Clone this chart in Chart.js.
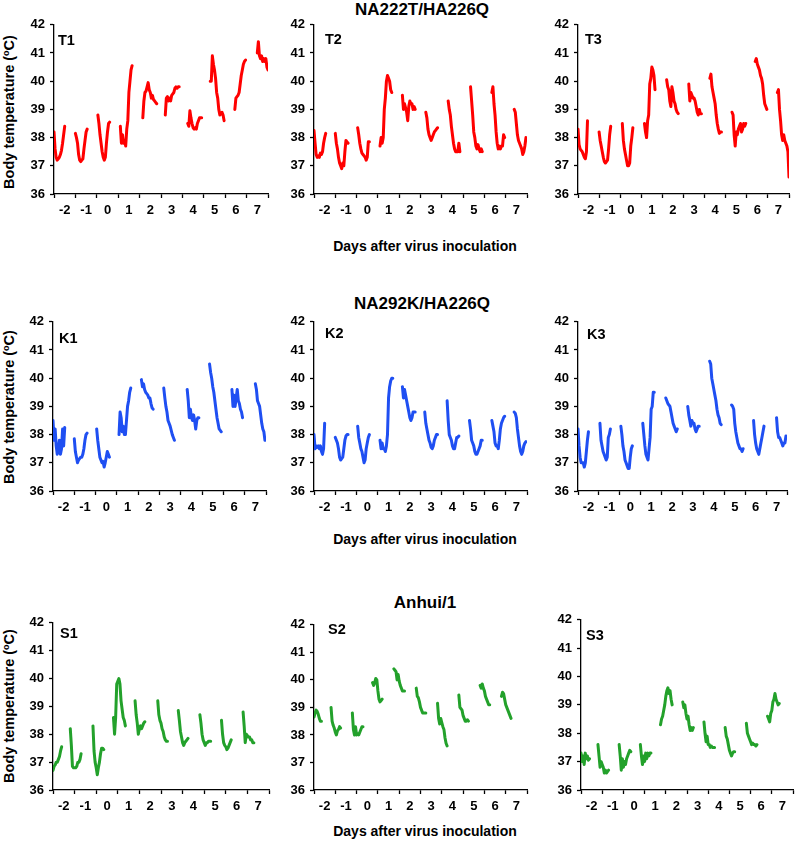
<!DOCTYPE html>
<html>
<head>
<meta charset="utf-8">
<script src="https://cdn.jsdelivr.net/npm/chart.js@4.4.1/dist/chart.umd.min.js"></script>
<style>
body{margin:0;background:#fff;width:795px;height:849px;position:relative;overflow:hidden;font-family:"Liberation Sans",Arial,sans-serif;}
canvas{position:absolute;}
.txt{position:absolute;font-weight:bold;color:#000;white-space:nowrap;transform:translate(-50%,-50%);}
.ytitle{transform:translate(-50%,-50%) rotate(-90deg);font-size:14.5px;}
.ytitle sup{font-size:9px;}
.grp{font-size:17px;}
.xt{font-size:14px;}
</style>
</head>
<body>
<div class="txt grp" style="left:422px;top:10px">NA222T/HA226Q</div>
<div class="txt grp" style="left:422px;top:304px">NA292K/HA226Q</div>
<div class="txt grp" style="left:425px;top:603px">Anhui/1</div>
<div class="txt xt" style="left:425px;top:246px">Days after virus inoculation</div>
<div class="txt xt" style="left:425px;top:539px">Days after virus inoculation</div>
<div class="txt xt" style="left:425px;top:831px">Days after virus inoculation</div>
<div class="txt ytitle" style="left:9px;top:112px">Body temperature (<sup>o</sup>C)</div>
<div class="txt ytitle" style="left:9px;top:407px">Body temperature (<sup>o</sup>C)</div>
<div class="txt ytitle" style="left:9px;top:706px">Body temperature (<sup>o</sup>C)</div>
<script>
// x axis: one label per day, tick marks between days
const dayLabels = [-2, -1, 0, 1, 2, 3, 4, 5, 6, 7];
const tempTicks = [36, 37, 38, 39, 40, 41, 42];
// readings every 0.05 day; each entry = [first reading day, readings]
const stepDays = 0.05;

const T1 = [
  [-2.5, [38.2,37.6,37.3,37.2,37.25,37.3,37.4,37.55,37.8,38.1,38.4]],
  [-1.5, [38.15,38.0,37.8,37.4,37.2,37.15,37.2,37.25,37.6,37.9,38.2,38.3]],
  [-0.45, [38.8,38.5,38.1,37.8,37.5,37.3,37.2,37.3,37.8,38.2,38.5,38.55]],
  [0.6, [38.4,37.8,38.1,37.8,37.9,37.7,38.3,38.6,39.6,40.0,40.4,40.55]],
  [1.65, [38.7,39.3,39.6,39.65,39.8,39.95,39.7,39.6,39.4,39.5,39.35,39.3,39.25,39.2]],
  [2.7, [38.8,39.4,39.45,39.3,39.4,39.3,39.5,39.55,39.6,39.75,39.8,39.75,39.8,39.8]],
  [3.75, [38.5,38.4,38.95,38.7,38.5,38.35,38.3,38.35,38.3,38.5,38.6,38.7,38.7,38.7]],
  [4.8, [40.0,40.0,40.9,40.6,40.4,40.1,39.6,39.4,39.0,38.8,38.85,38.9,38.8,38.6]],
  [5.95, [39.0,39.4,39.45,39.5,39.6,39.9,40.2,40.4,40.6,40.7,40.75]],
  [7.0, [41.0,41.4,40.9,40.8,40.9,40.7,40.8,40.7,40.8,40.5,40.4]]
];
const T2 = [
  [-2.5, [38.25,37.8,37.4,37.3,37.35,37.3,37.45,37.4,37.5,37.8,38.0,38.15]],
  [-1.5, [38.15,37.8,37.6,37.3,37.1,37.0,36.9,37.1,37.0,37.5,37.9,37.85,37.8]],
  [-0.45, [38.35,38.1,37.8,37.6,37.45,37.4,37.35,37.3,37.2,37.3,37.85,37.85]],
  [0.6, [37.7,38.0,37.8,38.0,39.0,39.4,40.0,40.2,40.1,40.0,39.7,39.6]],
  [1.65, [39.5,39.0,39.2,39.05,38.9,38.6,39.1,39.3,39.2,39.2,39.0,39.1,39.0]],
  [2.75, [38.9,38.7,38.3,38.1,38.0,37.9,38.0,38.1,38.2,38.25,38.3,38.35]],
  [3.8, [39.3,39.0,38.8,38.4,38.1,37.8,37.6,37.5,37.5,37.5,37.8,37.5]],
  [4.85, [39.8,39.3,38.8,38.2,38.0,37.7,37.6,37.75,37.6,37.5,37.6,37.5]],
  [5.85, [39.6,39.8,39.2,38.8,38.2,37.8,37.6,37.7,37.6,37.7,37.7,38.1,38.0]],
  [6.9, [39.0,38.9,38.5,38.1,37.9,37.8,37.7,37.6,37.4,37.5,37.7,38.0]]
];
const T3 = [
  [-2.5, [38.3,37.75,37.6,37.55,37.5,37.4,37.3,37.25,37.5,38.6]],
  [-1.5, [38.2,37.9,37.7,37.5,37.3,37.15,37.1,37.15,37.2,37.6,38.1,38.4]],
  [-0.4, [38.5,37.9,37.6,37.4,37.2,37.0,37.0,37.1,37.7,38.0,38.35]],
  [0.65, [38.5,38.2,38.0,38.6,38.8,39.9,40.1,40.5,40.4,40.2,39.7]],
  [1.7, [40.05,39.8,39.7,39.3,39.1,39.8,39.6,39.3,39.2,39.0,38.9,38.85]],
  [2.75, [39.9,39.3,39.6,39.5,39.4,39.4,39.3,39.1,38.9,38.8,39.0,38.85,38.85]],
  [3.75, [40.1,40.25,39.8,39.6,39.4,39.2,38.8,38.5,38.3,38.15,38.2,38.2]],
  [4.8, [38.9,38.8,38.1,37.7,38.2,38.1,38.3,38.4,38.5,38.2,38.3,38.5,38.4,38.5]],
  [5.9, [40.7,40.8,40.6,40.5,40.4,40.2,40.1,39.9,39.5,39.2,39.1,39.0]],
  [6.95, [39.6,39.7,39.0,38.6,38.1,37.9,38.1,37.9,37.8,37.7,37.5,36.6]]
];
const K1 = [
  [-2.5, [38.5,37.8,38.2,37.6,37.3,37.5,37.8,37.3,37.5,38.2,37.6,38.25]],
  [-1.5, [37.85,37.4,37.2,37.0,37.1,37.15,37.2,37.2,37.3,37.5,37.8,38.0,38.05]],
  [-0.45, [38.2,37.8,37.5,37.2,37.1,37.0,37.05,36.85,37.0,37.2,37.4,37.3,37.2]],
  [0.6, [38.0,38.8,38.6,38.1,38.3,38.0,38.0,38.5,39.0,39.2,39.5,39.65]],
  [1.65, [39.95,39.7,39.8,39.6,39.5,39.45,39.4,39.3,39.3,39.1,38.95,38.9]],
  [2.7, [39.65,39.3,39.0,38.8,38.5,38.4,38.3,38.15,38.0,37.9,37.8]],
  [3.8, [39.6,39.2,38.6,38.9,38.6,38.5,38.7,38.5,38.2,38.5,38.6,38.6]],
  [4.85, [40.5,40.2,40.0,39.7,39.5,39.2,38.9,38.6,38.4,38.2,38.15,38.1]],
  [5.9, [39.6,39.0,39.4,39.0,39.3,39.6,39.2,39.1,38.9,38.8,38.6]],
  [7.0, [39.8,39.6,39.2,39.1,39.0,38.7,38.4,38.2,38.1,37.8]]
];
const K2 = [
  [-2.5, [38.0,37.5,37.6,37.55,37.6,37.5,37.6,37.4,37.3,37.5,38.4]],
  [-1.5, [37.9,37.8,37.7,37.5,37.2,37.1,37.15,37.2,37.5,37.8,37.95,38.0,38.0]],
  [-0.45, [38.3,37.9,37.7,37.5,37.4,37.2,37.0,37.1,37.5,37.7,37.9,38.0]],
  [0.6, [37.8,37.5,37.7,37.5,37.5,37.4,37.6,38.0,39.3,39.7,39.9,40.0,40.0]],
  [1.65, [39.7,39.3,39.6,39.4,39.2,39.0,38.8,38.6,38.5,38.6,38.8,38.8,38.8]],
  [2.7, [38.8,38.4,38.2,38.0,37.8,37.7,37.55,37.5,37.6,37.8,37.9,38.0,38.0]],
  [3.75, [39.2,38.5,38.0,37.9,37.8,37.6,37.5,37.5,37.7,37.9,37.9,37.95]],
  [4.8, [38.5,38.2,37.8,37.7,37.6,37.4,37.3,37.3,37.4,37.5,37.6,37.8,37.8]],
  [5.85, [38.5,38.3,38.1,37.7,37.6,37.6,37.5,37.8,38.2,38.4,38.5,38.6,38.65]],
  [6.9, [38.8,38.75,38.6,38.2,37.9,37.6,37.4,37.3,37.4,37.6,37.7,37.75]]
];
const K3 = [
  [-2.5, [38.2,37.6,37.2,37.0,37.0,37.0,36.85,37.0,37.4,37.8,38.1]],
  [-1.45, [38.4,37.8,37.6,37.4,37.3,37.2,37.1,37.2,37.9,38.0,38.2]],
  [-0.45, [38.3,38.0,37.6,37.4,37.1,37.0,36.9,36.8,36.8,37.2,37.5,37.6]],
  [0.6, [38.4,38.0,37.6,37.3,37.2,37.1,37.5,37.9,38.9,39.0,39.5,39.5]],
  [1.7, [39.3,39.2,39.1,39.05,39.0,38.8,38.6,38.4,38.3,38.2,38.1,38.2]],
  [2.75, [39.0,38.7,38.5,38.3,38.5,38.4,38.4,38.2,38.1,38.2,38.3,38.3]],
  [3.8, [40.6,40.5,40.0,39.8,39.6,39.4,39.2,38.9,38.7,38.6,38.4,38.35]],
  [4.85, [39.05,39.0,38.9,38.4,38.1,37.9,37.7,37.6,37.5,37.5,37.4,37.5]],
  [5.9, [38.5,38.0,37.7,37.5,37.4,37.3,37.5,37.7,37.9,38.1,38.3]],
  [7.0, [38.6,38.1,37.9,37.9,37.8,37.7,37.6,37.7,37.7,37.95]]
];
const S1 = [
  [-2.5, [36.7,36.85,36.9,37.0,37.0,37.1,37.2,37.4,37.55]],
  [-1.7, [38.2,37.6,36.85,36.8,36.8,36.8,36.85,37.0,37.0,37.1,37.3]],
  [-0.65, [38.3,37.4,37.0,36.8,36.55,36.8,37.0,37.3,37.5,37.5,37.45]],
  [0.3, [38.6,38.0,38.6,39.8,39.9,40.0,39.8,39.2,38.9,38.6,38.5,38.3]],
  [1.3, [39.2,38.7,38.4,38.0,38.2,38.3,38.2,38.3,38.4,38.45]],
  [2.35, [39.2,38.7,38.5,38.4,38.2,38.1,37.9,37.8,37.75,37.75]],
  [3.3, [38.85,38.5,38.1,37.9,37.7,37.6,37.7,37.75,37.8,37.85]],
  [4.3, [38.7,38.4,38.0,37.8,37.7,37.6,37.7,37.7,37.75,37.75,37.75]],
  [5.3, [38.5,38.0,37.7,37.6,37.55,37.45,37.5,37.6,37.7,37.8]],
  [6.3, [38.8,38.3,37.7,38.0,37.95,37.9,37.9,37.8,37.8,37.7,37.7]]
];
const S2 = [
  [-2.5, [38.65,38.8,38.9,38.85,38.75,38.6,38.5,38.5]],
  [-1.7, [39.0,38.5,38.35,38.25,38.1,38.0,38.15,38.2,38.3,38.25]],
  [-0.7, [38.8,38.2,38.0,38.3,38.0,38.05,38.0,38.1,38.2,38.3,38.3]],
  [0.25, [39.9,39.8,39.9,40.05,40.0,39.6,39.3,39.2,39.25,39.3]],
  [1.25, [40.4,40.35,40.3,40.0,40.2,39.95,39.8,39.7,39.6,39.6,39.6]],
  [2.3, [39.7,39.4,39.35,39.2,39.0,38.9,38.8,38.8,38.8,38.8]],
  [3.3, [39.15,38.6,38.4,38.6,38.45,38.3,38.2,37.9,37.7,37.6]],
  [4.3, [39.45,39.0,38.95,38.9,38.7,38.6,38.5,38.5,38.55,38.5]],
  [5.3, [39.8,39.7,39.85,39.7,39.6,39.4,39.3,39.2,39.1,39.1]],
  [6.3, [39.4,39.55,39.5,39.3,39.1,39.0,38.9,38.8,38.7,38.6]]
];
const S3 = [
  [-2.5, [37.3,37.0,37.2,36.9,37.3,37.1,37.2,37.05,37.1]],
  [-1.7, [37.6,37.2,36.8,37.0,36.9,36.8,36.6,36.7,36.6,36.65,36.7]],
  [-0.7, [37.6,37.2,36.7,37.1,36.8,37.0,36.9,37.1,37.2,37.3,37.4,37.35]],
  [0.3, [37.6,37.2,36.9,37.2,37.0,37.3,37.1,37.3,37.2,37.3,37.3]],
  [1.25, [38.3,38.5,38.6,38.8,39.0,39.3,39.5,39.6,39.4,39.5,39.2,39.0]],
  [2.3, [39.1,38.9,39.0,38.7,38.5,38.6,38.3,38.1,38.2,38.1,38.2]],
  [3.3, [38.4,38.0,37.7,37.9,37.6,37.6,37.5,37.55,37.5,37.5,37.5]],
  [4.3, [38.2,37.9,37.8,37.6,37.4,37.3,37.2,37.3,37.35,37.35]],
  [5.3, [38.35,38.0,37.9,37.8,37.7,37.6,37.65,37.6,37.6,37.55,37.6]],
  [6.3, [38.6,38.5,38.4,38.7,38.8,39.1,39.2,39.4,39.2,39.1,39.0,39.05]]
];

const RED = '#ff0000', BLUE = '#1f4ff2', GREEN = '#23a12b';
const FONT = '"Liberation Sans", Arial, sans-serif';

// plot area of every panel on the page: [left, right, top, bottom]
const panels = [
  {name: 'T1', data: T1, color: RED,   area: [54, 268, 24, 194],  dx: 4,  dy: 10},
  {name: 'T2', data: T2, color: RED,   area: [314, 527, 24, 194], dx: 11, dy: 9},
  {name: 'T3', data: T3, color: RED,   area: [578, 789, 24, 194], dx: 7,  dy: 9},
  {name: 'K1', data: K1, color: BLUE,  area: [53, 266, 321, 491], dx: 6,  dy: 11},
  {name: 'K2', data: K2, color: BLUE,  area: [314, 527, 321, 491], dx: 11, dy: 6},
  {name: 'K3', data: K3, color: BLUE,  area: [578, 787, 321, 491], dx: 9,  dy: 7},
  {name: 'S1', data: S1, color: GREEN, area: [53, 269, 622, 790], dx: 7,  dy: 5},
  {name: 'S2', data: S2, color: GREEN, area: [314, 527, 624, 790], dx: 14, dy: -1},
  {name: 'S3', data: S3, color: GREEN, area: [581, 793, 619, 790], dx: 5,  dy: 10}
];

const Y_W = 46, X_H = 32, PAD_T = 12, PAD_R = 6;

// draws the animal id (T1, K2 ...) in the upper left corner of the plot
const panelLabel = {
  id: 'panelLabel',
  afterDraw(chart, args, opts) {
    const ctx = chart.ctx, a = chart.chartArea;
    ctx.save();
    ctx.font = 'bold 14.5px ' + FONT;
    ctx.fillStyle = '#000';
    ctx.textBaseline = 'alphabetic';
    ctx.fillText(opts.text, a.left + opts.dx, a.top + opts.dy + 10);
    ctx.restore();
  }
};

function toPoints(segments) {
  const pts = [];
  segments.forEach(seg => {
    const start = seg[0];
    seg[1].forEach((v, i) => pts.push({x: start + i * stepDays, y: v}));
    // break the line between recording periods
    pts.push({x: start + seg[1].length * stepDays, y: null});
  });
  return pts;
}

panels.forEach(p => {
  const [L, R, T, B] = p.area;
  const cv = document.createElement('canvas');
  cv.width = R - L + Y_W + PAD_R;
  cv.height = B - T + PAD_T + X_H;
  cv.style.left = (L - Y_W) + 'px';
  cv.style.top = (T - PAD_T) + 'px';
  document.body.appendChild(cv);

  new Chart(cv.getContext('2d'), {
    type: 'line',
    data: {
      datasets: [{
        data: toPoints(p.data),
        borderColor: p.color,
        borderWidth: 3,
        pointRadius: 0,
        tension: 0,
        spanGaps: false,
        borderJoinStyle: 'round',
        borderCapStyle: 'round'
      }]
    },
    options: {
      responsive: false,
      animation: false,
      devicePixelRatio: 1,
      layout: {padding: {left: 0, right: PAD_R, top: PAD_T, bottom: 0}},
      plugins: {
        legend: {display: false},
        tooltip: {enabled: false},
        panelLabel: {text: p.name, dx: p.dx, dy: p.dy}
      },
      scales: {
        x: {
          type: 'linear',
          min: dayLabels[0] - 0.5,
          max: dayLabels[dayLabels.length - 1] + 0.5,
          afterBuildTicks: s => {
            const t = [];
            dayLabels.forEach(d => { t.push({value: d - 0.5}); t.push({value: d}); });
            t.push({value: dayLabels[dayLabels.length - 1] + 0.5});
            s.ticks = t;
          },
          afterFit: s => { s.height = X_H; },
          border: {color: '#000', width: 1.3},
          grid: {
            drawOnChartArea: false,
            tickLength: 4,
            tickWidth: 1.3,
            tickColor: c => (c.tick && Number.isInteger(c.tick.value)) ? 'rgba(0,0,0,0)' : '#000'
          },
          ticks: {
            autoSkip: false,
            maxRotation: 0,
            minRotation: 0,
            padding: 5,
            color: '#000',
            font: {family: FONT, size: 13, weight: 'bold'},
            callback: v => Number.isInteger(v) ? String(v) : ''
          }
        },
        y: {
          min: tempTicks[0],
          max: tempTicks[tempTicks.length - 1],
          afterBuildTicks: s => { s.ticks = tempTicks.map(v => ({value: v})); },
          afterFit: s => { s.width = Y_W; },
          border: {color: '#000', width: 1.3},
          grid: {drawOnChartArea: false, tickLength: 4, tickWidth: 1.3, tickColor: '#000'},
          ticks: {
            padding: 5,
            color: '#000',
            font: {family: FONT, size: 13, weight: 'bold'}
          }
        }
      }
    },
    plugins: [panelLabel]
  });
});
</script>
</body>
</html>
